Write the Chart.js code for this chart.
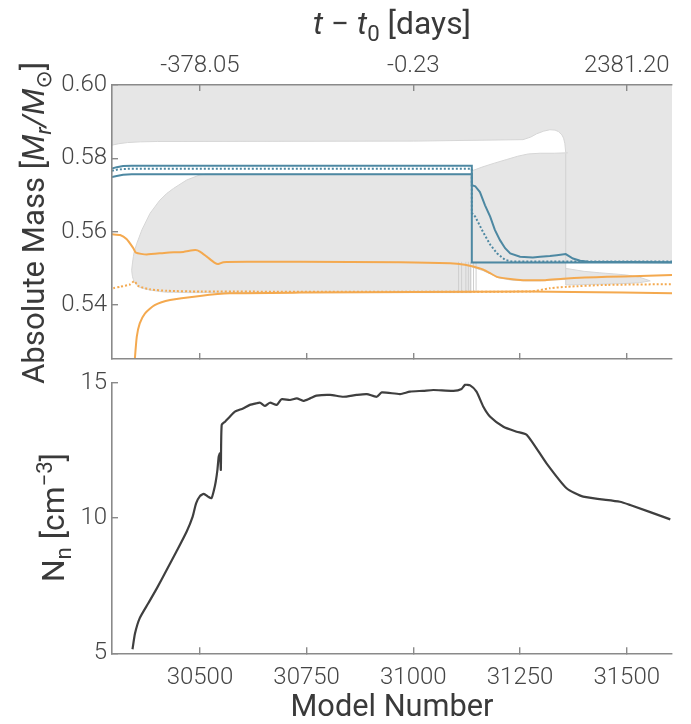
<!DOCTYPE html>
<html>
<head>
<meta charset="utf-8">
<script src="https://cdn.jsdelivr.net/npm/chart.js@4.4.1/dist/chart.umd.min.js"></script>
<style>
  html, body { margin: 0; padding: 0; background: #fff; }
  #wrap { position: relative; width: 691px; height: 724px; }
  .panel { position: absolute; left: 0; width: 691px; }
  #top { top: 0; height: 400px; }
  #bottom { top: 365px; height: 359px; }
</style>
</head>
<body>
<div id="wrap">
  <div class="panel" id="top"><canvas id="cTop"></canvas></div>
  <div class="panel" id="bottom"><canvas id="cBot"></canvas></div>
</div>
<script>
// Ejes
const xMin = 30294;
const xMax = 31606;
const xTicks = [30500, 30750, 31000, 31250, 31500];
const topTickPos = [30500, 31000, 31500];
const topTickLabels = ['-378.05', '-0.23', '2381.20'];
const yTicksTop = [0.54, 0.56, 0.58, 0.60];
const yTicksBot = [5, 10, 15];

// Zonas grises (envolvente, zona convectiva, etc.)
const aX  = [30294, 30310, 30330, 30360, 30400, 31000, 31257, 31275, 31289, 31305, 31320, 31332, 31340, 31348, 31352, 31355, 31357, 31362];
const aHi = [0.60, 0.60, 0.60, 0.60, 0.60, 0.60, 0.60, 0.60, 0.60, 0.60, 0.60, 0.60, 0.60, 0.60, 0.60, 0.60, 0.60, 0.60];
const aLo = [0.5836, 0.5840, 0.5843, 0.5845, 0.5846, 0.5847, 0.5851, 0.5858, 0.5867, 0.5874, 0.5878, 0.5877, 0.5873, 0.5864, 0.5855, 0.5840, 0.5815, 0.5815];

const bX  = [30340, 30342, 30344, 30346, 30352, 30356, 30364, 30383, 30406, 30422, 30438, 30469, 30500, 30516, 31137];
const bHi = [0.5495, 0.5515, 0.5532, 0.5545, 0.5568, 0.5580, 0.5605, 0.5650, 0.5686, 0.5704, 0.5718, 0.5741, 0.5755, 0.5757, 0.5757];
const bLo = [0.5495, 0.5477, 0.5470, 0.5464, 0.5455, 0.5450, 0.5446, 0.5441, 0.5437, 0.5435, 0.5435, 0.5434, 0.5434, 0.5434, 0.5434];

const cX  = [31137, 31150, 31165, 31180, 31200, 31230, 31260, 31300, 31340, 31357];
const cHi = [0.5517, 0.5517, 0.5517, 0.5517, 0.5517, 0.5517, 0.5517, 0.5517, 0.5517, 0.5517];
const cLo = [0.5504, 0.5499, 0.5493, 0.5485, 0.5474, 0.5468, 0.5466, 0.5466, 0.5469, 0.5470];

const dX  = [31137, 31163, 31190, 31219, 31245, 31269, 31297, 31330, 31357];
const dHi = [0.5766, 0.5777, 0.5787, 0.5797, 0.5806, 0.5812, 0.5814, 0.5814, 0.5815];
const dLo = [0.5517, 0.5517, 0.5517, 0.5517, 0.5517, 0.5517, 0.5517, 0.5517, 0.5517];

const fX  = [31357, 31606];
const fHi = [0.60, 0.60];
const fLo = [0.5517, 0.5517];

const eX  = [31357, 31400, 31437, 31470, 31500, 31530, 31555];
const eHi = [0.5500, 0.5492, 0.5488, 0.5485, 0.5482, 0.5476, 0.5466];
const eLo = [0.5455, 0.5456, 0.5457, 0.5458, 0.5459, 0.5461, 0.5466];

// Episodios cortos (líneas verticales)
const epX  = [31106, 31113, 31123, 31129, 31134, 31141, 31147, 31357];
const epLo = [0.5436, 0.5436, 0.5436, 0.5436, 0.5436, 0.5436, 0.5436, 0.5455];
const epHi = [0.5518, 0.5518, 0.5518, 0.5518, 0.5518, 0.5518, 0.5518, 0.5814];

// Líneas azules
const blueTopX = [30294, 30305, 30320, 30340, 31137, 31137, 31606];
const blueTopY = [0.5772, 0.5776, 0.5779, 0.5780, 0.5780, 0.5516, 0.5516];
const blueDotX = [30294, 30305, 30320, 30340, 31137, 31137, 31145, 31163, 31180, 31196, 31215, 31230, 31606];
const blueDotY = [0.5766, 0.5769, 0.5771, 0.5772, 0.5772, 0.5651, 0.5641, 0.5600, 0.5565, 0.5541, 0.5523, 0.5519, 0.5519];
const blueLowX = [30294, 30305, 30320, 30340, 31137, 31137, 31145, 31156, 31168, 31180, 31191, 31203, 31215, 31227, 31250, 31280, 31297, 31320, 31336, 31357, 31374, 31391, 31410, 31606];
const blueLowY = [0.5749, 0.5752, 0.5755, 0.5757, 0.5757, 0.5727, 0.5724, 0.5708, 0.5672, 0.5641, 0.5605, 0.5577, 0.5555, 0.5541, 0.5532, 0.5530, 0.5532, 0.5534, 0.5536, 0.5539, 0.5527, 0.5521, 0.5518, 0.5517];

// Líneas naranjas
const orMidX = [30294, 30313, 30328, 30344, 30350, 30375, 30422, 30461, 30489, 30500, 30516, 30535, 30543, 30555, 30617, 30735, 30969, 31086, 31121, 31140, 31163, 31180, 31196, 31227, 31257, 31309, 31351, 31402, 31454, 31532, 31606];
const orMidY = [0.5593, 0.5591, 0.5580, 0.5555, 0.5543, 0.5538, 0.5543, 0.5545, 0.5550, 0.5546, 0.5532, 0.5515, 0.5512, 0.5517, 0.5518, 0.5518, 0.5517, 0.5514, 0.5510, 0.5505, 0.5497, 0.5487, 0.5477, 0.5471, 0.5468, 0.5468, 0.5472, 0.5475, 0.5477, 0.5479, 0.5482];
const orDotX = [30297, 30313, 30336, 30346, 30356, 30383, 30422, 30500, 31274, 31320, 31360, 31454, 31606];
const orDotY = [0.5446, 0.5450, 0.5456, 0.5465, 0.5452, 0.5443, 0.5439, 0.5437, 0.5437, 0.5446, 0.5450, 0.5455, 0.5457];
const orLowX = [30346, 30352, 30359, 30371, 30394, 30430, 30500, 30570, 30734, 31273, 31374, 31606];
const orLowY = [0.5230, 0.5313, 0.5350, 0.5377, 0.5400, 0.5414, 0.5425, 0.5432, 0.5434, 0.5437, 0.5436, 0.5432];

// Densidad de neutrones
const nnX = [30342, 30348, 30359, 30379, 30399, 30422, 30445, 30469, 30483, 30491, 30500, 30509, 30519, 30527, 30533, 30537, 30541, 30544, 30547, 30549, 30551, 30559, 30570, 30582, 30601, 30617, 30633, 30641, 30652, 30664, 30680, 30691, 30711, 30727, 30742, 30758, 30773, 30805, 30836, 30867, 30891, 30914, 30926, 30969, 30992, 31023, 31047, 31094, 31113, 31121, 31133, 31148, 31164, 31180, 31211, 31242, 31266, 31312, 31359, 31398, 31484, 31508, 31602];
const nnY = [5.15, 5.74, 6.30, 6.85, 7.40, 8.08, 8.76, 9.50, 10.05, 10.54, 10.81, 10.89, 10.79, 10.73, 11.04, 11.34, 11.78, 12.27, 12.39, 11.78, 13.44, 13.56, 13.74, 13.93, 14.05, 14.18, 14.24, 14.26, 14.14, 14.26, 14.18, 14.39, 14.36, 14.42, 14.33, 14.42, 14.52, 14.55, 14.48, 14.55, 14.58, 14.48, 14.64, 14.58, 14.67, 14.70, 14.73, 14.70, 14.77, 14.92, 14.90, 14.67, 14.11, 13.74, 13.37, 13.19, 13.07, 12.02, 11.10, 10.79, 10.60, 10.48, 9.95];

const blue = '#4d88a2';
const orange = '#f4a94f';
const grey = '#e6e6e6';
const edge = '#d6d6d6';
const spine = '#8a8a8a';
const tickColor = '#454545';
const titleColor = '#3a3a3a';
const TICK_FONT = { family: 'Roboto, "Open Sans", sans-serif', size: 24, weight: 300 };
const TITLE_FONT = 'Roboto, "DejaVu Sans", sans-serif';

function pts(xs, ys) {
    return xs.map((x, i) => ({ x: x, y: ys[i] }));
}

function vertical(xs, lo, hi) {
    let out = [];
    xs.forEach((x, i) => {
        out.push({ x: x, y: lo[i] });
        out.push({ x: x, y: hi[i] });
        out.push({ x: x, y: null });
    });
    return out;
}

// Texto con cursiva, subíndices y superíndices
function drawRuns(ctx, item) {
    const fontOf = r => (r.it ? 'italic ' : '') + '400 ' + ((r.sub || r.sup) ? item.size * 0.7 : item.size) + 'px ' + TITLE_FONT;
    ctx.save();
    ctx.translate(item.x, item.y);
    ctx.rotate(item.rot || 0);
    let total = 0;
    item.runs.forEach(r => { ctx.font = fontOf(r); total += ctx.measureText(r.t).width; });
    if (item.width) ctx.scale(item.width / total, 1);
    ctx.fillStyle = titleColor;
    ctx.textBaseline = 'alphabetic';
    ctx.textAlign = 'left';
    let x = -total / 2;
    item.runs.forEach(r => {
        ctx.font = fontOf(r);
        let dy = 0;
        if (r.sub) dy = item.size * 0.22;
        if (r.sup) dy = -item.size * 0.40;
        ctx.fillText(r.t, x, item.size * item.base + dy);
        x += ctx.measureText(r.t).width;
    });
    ctx.restore();
}

function titlesPlugin(items) {
    return {
        id: 'mixedTitles',
        afterDraw(chart) {
            items.forEach(it => drawRuns(chart.ctx, it));
        }
    };
}

function gridOpts() {
    return { drawOnChartArea: false, drawTicks: true, tickLength: -6, color: spine, tickColor: spine, lineWidth: 1.4, z: 1 };
}

function borderOpts() {
    return { display: true, color: spine, width: 1.6, z: 1 };
}

// Evita que las etiquetas empujen el área del gráfico
function fixSize(w, h) {
    return s => {
        if (w !== null) s.width = w;
        if (h !== null) s.height = h;
        s.paddingTop = 0;
        s.paddingBottom = 0;
        s.paddingLeft = 0;
        s.paddingRight = 0;
    };
}

// Panel superior
let topSets = [];
const regions = [
    { x: aX, hi: aHi, lo: aLo, noHi: true },
    { x: bX, hi: bHi, lo: bLo },
    { x: cX, hi: cHi, lo: cLo },
    { x: dX, hi: dHi, lo: dLo },
    { x: fX, hi: fHi, lo: fLo, noHi: true, noLo: true },
    { x: eX, hi: eHi, lo: eLo }
];
const lineSets = [
    { data: pts(blueTopX, blueTopY), borderColor: blue },
    { data: pts(blueLowX, blueLowY), borderColor: blue },
    { data: pts(blueDotX, blueDotY), borderColor: blue, borderDash: [2, 2] },
    { data: pts(orMidX, orMidY), borderColor: orange, tension: 0.2 },
    { data: pts(orLowX, orLowY), borderColor: orange, tension: 0.2 },
    { data: pts(orDotX, orDotY), borderColor: orange, borderDash: [2, 2], tension: 0.2 }
];
lineSets.forEach(s => {
    topSets.push(Object.assign({ borderWidth: 2, pointRadius: 0, tension: 0, fill: false, order: 0 }, s));
});
topSets.push({ data: vertical(epX, epLo, epHi), borderColor: '#cfcfcf', borderWidth: 1, pointRadius: 0, fill: false, spanGaps: false, order: 5 });
regions.forEach(r => {
    topSets.push({ data: pts(r.x, r.lo), borderColor: edge, borderWidth: r.noLo ? 0 : 1, pointRadius: 0, tension: 0, fill: false, order: 10 });
    topSets.push({ data: pts(r.x, r.hi), borderColor: edge, borderWidth: r.noHi ? 0 : 1, pointRadius: 0, tension: 0, fill: '-1', backgroundColor: grey, order: 10 });
});

new Chart(document.getElementById('cTop'), {
    type: 'line',
    data: { datasets: topSets },
    options: {
        animation: false,
        responsive: true,
        maintainAspectRatio: false,
        devicePixelRatio: 1,
        events: [],
        layout: { padding: { left: 0, right: 19, top: 0, bottom: 41 } },
        plugins: { legend: { display: false }, tooltip: { enabled: false } },
        scales: {
            x: {
                type: 'linear', position: 'bottom', min: xMin, max: xMax,
                afterBuildTicks: s => { s.ticks = xTicks.map(v => ({ value: v })); },
                afterFit: fixSize(null, 0),
                grid: gridOpts(), border: borderOpts(),
                ticks: { display: false }
            },
            x2: {
                type: 'linear', position: 'top', min: xMin, max: xMax,
                afterBuildTicks: s => { s.ticks = topTickPos.map(v => ({ value: v })); },
                afterFit: fixSize(null, 85),
                grid: gridOpts(), border: borderOpts(),
                ticks: { callback: (v, i) => topTickLabels[i], font: TICK_FONT, color: tickColor, padding: 11, maxRotation: 0, autoSkip: false }
            },
            y: {
                type: 'linear', min: 0.5253, max: 0.60,
                afterBuildTicks: s => { s.ticks = yTicksTop.map(v => ({ value: v })); },
                afterFit: fixSize(112, null),
                grid: gridOpts(), border: borderOpts(),
                ticks: { callback: v => v.toFixed(2), font: TICK_FONT, color: tickColor, padding: 11, autoSkip: false }
            }
        }
    },
    plugins: [titlesPlugin([
        { x: 392, y: 26, size: 31, base: 0.26, width: 158, runs: [
            { t: 't', it: true }, { t: ' \u2212 ' }, { t: 't', it: true }, { t: '0', sub: true }, { t: ' [days]' }] },
        { x: 36, y: 223, rot: -Math.PI / 2, size: 31, base: 0.26, width: 322, runs: [
            { t: 'Absolute Mass [' }, { t: 'M', it: true }, { t: 'r', it: true, sub: true }, { t: '/', it: true },
            { t: 'M', it: true }, { t: '\u2299', sub: true }, { t: ']' }] }
    ])]
});

// Panel inferior
new Chart(document.getElementById('cBot'), {
    type: 'line',
    data: {
        datasets: [{
            data: pts(nnX, nnY),
            borderColor: '#3f3f3f',
            borderWidth: 2.2,
            pointRadius: 0,
            tension: 0.2,
            fill: false
        }]
    },
    options: {
        animation: false,
        responsive: true,
        maintainAspectRatio: false,
        devicePixelRatio: 1,
        events: [],
        layout: { padding: { left: 0, right: 19, top: 17.7, bottom: 0 } },
        plugins: { legend: { display: false }, tooltip: { enabled: false } },
        scales: {
            x: {
                type: 'linear', position: 'bottom', min: xMin, max: xMax,
                afterBuildTicks: s => { s.ticks = xTicks.map(v => ({ value: v })); },
                afterFit: fixSize(null, 70.7),
                grid: gridOpts(), border: borderOpts(),
                ticks: { callback: v => String(v), font: TICK_FONT, color: tickColor, padding: 16, maxRotation: 0, autoSkip: false }
            },
            y: {
                type: 'linear', min: 5, max: 15,
                afterBuildTicks: s => { s.ticks = yTicksBot.map(v => ({ value: v })); },
                afterFit: fixSize(112, null),
                grid: gridOpts(), border: borderOpts(),
                ticks: { callback: v => String(v), font: TICK_FONT, color: tickColor, padding: 11, autoSkip: false }
            }
        }
    },
    plugins: [titlesPlugin([
        { x: 392, y: 340, size: 31, base: 0.36, width: 203, runs: [{ t: 'Model Number' }] },
        { x: 56, y: 152.5, rot: -Math.PI / 2, size: 31, base: 0.26, width: 129, runs: [
            { t: 'N' }, { t: 'n', sub: true }, { t: ' [cm' }, { t: '\u22123', sup: true }, { t: ']' }] }
    ])]
});
</script>
</body>
</html>
